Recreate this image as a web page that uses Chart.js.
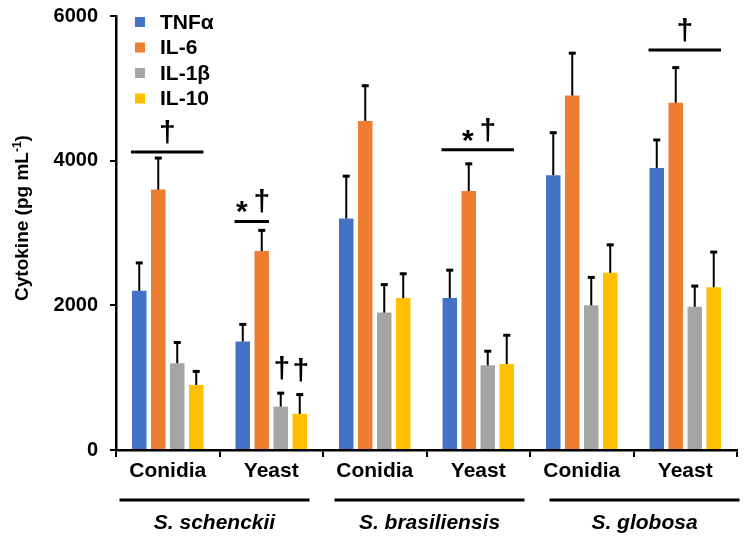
<!DOCTYPE html>
<html>
<head>
<meta charset="utf-8">
<script src="https://cdn.jsdelivr.net/npm/chart.js@4.4.1/dist/chart.umd.min.js"></script>
<style>
  html, body { margin: 0; padding: 0; background: #fff; }
  #wrap { width: 750px; height: 555px; }
</style>
</head>
<body>
<div id="wrap"><canvas id="chart"></canvas></div>
<script>
// ---------- data ----------
const CATEGORIES = ["Conidia", "Yeast", "Conidia", "Yeast", "Conidia", "Yeast"];
const GROUPS     = ["S. schenckii", "S. brasiliensis", "S. globosa"];
const SERIES     = ["TNFα", "IL-6", "IL-1β", "IL-10"];
const COLORS     = ["#4472C4", "#ED7D31", "#A5A5A5", "#FFC000"];

const TNF      = [2200, 1500, 3200, 2100, 3800, 3900];
const TNF_SD   = [ 400,  250,  600,  400,  600,  400];
const IL6      = [3600, 2750, 4550, 3580, 4900, 4800];
const IL6_SD   = [ 450,  300,  500,  390,  600,  500];
const IL1B     = [1200,  600, 1900, 1170, 2000, 1980];
const IL1B_SD  = [ 300,  200,  400,  210,  400,  300];
const IL10     = [ 900,  500, 2100, 1190, 2450, 2250];
const IL10_SD  = [ 200,  280,  350,  410,  400,  500];

const Y_TICKS = [0, 2000, 4000, 6000];

// significance bars: category, first..last bar covered, level (pg/mL), symbols
const SIG_LINES = [
  { cat: 0, from: 0, to: 3, level: 4120, marks: ["†"] },
  { cat: 1, from: 0, to: 1, level: 3160, marks: ["*", "†"] },
  { cat: 3, from: 0, to: 3, level: 4150, marks: ["*", "†"] },
  { cat: 5, from: 0, to: 3, level: 5530, marks: ["†"] },
];
// single symbols above a bar's error bar
const BAR_MARKS = [
  { cat: 1, bar: 2, mark: "†" },
  { cat: 1, bar: 3, mark: "†" },
];

const VALUES = [TNF, IL6, IL1B, IL10];
const ERRORS = [TNF_SD, IL6_SD, IL1B_SD, IL10_SD];

const FONT = "'Liberation Sans', Arial, sans-serif";

// ---------- plugins ----------

const errorBars = {
  id: "errorBars",
  afterDatasetsDraw(chart) {
    const { ctx, scales: { y } } = chart;
    ctx.save();
    ctx.strokeStyle = "#000";
    chart.data.datasets.forEach((ds, i) => {
      chart.getDatasetMeta(i).data.forEach((bar, j) => {
        const top = y.getPixelForValue(ds.data[j] + ERRORS[i][j]);
        ctx.lineWidth = 2;
        ctx.beginPath();
        ctx.moveTo(bar.x, bar.y);
        ctx.lineTo(bar.x, top);
        ctx.stroke();
        ctx.lineWidth = 3;
        ctx.beginPath();
        ctx.moveTo(bar.x - 3.5, top + 1);
        ctx.lineTo(bar.x + 3.5, top + 1);
        ctx.stroke();
      });
    });
    ctx.restore();
  },
};

function drawMarks(ctx, marks, cx, bottom) {
  ctx.font = `bold 30px ${FONT}`;
  const gap = 20;
  marks.forEach((m, k) => {
    const x = cx + (k - (marks.length - 1) / 2) * gap;
    const tm = ctx.measureText(m);
    ctx.fillText(m, x, bottom - tm.actualBoundingBoxDescent);
  });
}

const decorations = {
  id: "decorations",
  afterDraw(chart) {
    const { ctx, chartArea, scales: { x, y } } = chart;
    ctx.save();
    ctx.fillStyle = "#000";
    ctx.strokeStyle = "#000";
    ctx.textAlign = "center";
    ctx.textBaseline = "alphabetic";

    // significance lines
    SIG_LINES.forEach(s => {
      const b0 = chart.getDatasetMeta(s.from).data[s.cat];
      const b1 = chart.getDatasetMeta(s.to).data[s.cat];
      const x0 = b0.x - b0.width / 2 - 1;
      const x1 = b1.x + b1.width / 2;
      const ly = y.getPixelForValue(s.level);
      ctx.lineWidth = 3;
      ctx.beginPath();
      ctx.moveTo(x0, ly);
      ctx.lineTo(x1, ly);
      ctx.stroke();
      drawMarks(ctx, s.marks, (x0 + x1) / 2, ly - 8);
    });

    BAR_MARKS.forEach(m => {
      const bar = chart.getDatasetMeta(m.bar).data[m.cat];
      const top = y.getPixelForValue(VALUES[m.bar][m.cat] + ERRORS[m.bar][m.cat]);
      drawMarks(ctx, [m.mark], bar.x + 1, top - 12);
    });

    // legend
    ctx.textAlign = "left";
    ctx.textBaseline = "middle";
    ctx.font = `bold 21px ${FONT}`;
    SERIES.forEach((name, i) => {
      const ly = chartArea.top + 6 + i * 25.5;
      ctx.fillStyle = COLORS[i];
      ctx.fillRect(chartArea.left + 19, ly - 5, 10, 10);
      ctx.fillStyle = "#000";
      ctx.fillText(name, chartArea.left + 44, ly + 1);
    });

    // species group lines and labels
    ctx.textAlign = "center";
    ctx.textBaseline = "alphabetic";
    ctx.font = `italic bold 21px ${FONT}`;
    GROUPS.forEach((g, i) => {
      const cx = (x.getPixelForValue(2 * i) + x.getPixelForValue(2 * i + 1)) / 2 - 5 + i * 8;
      ctx.lineWidth = 3;
      ctx.beginPath();
      ctx.moveTo(cx - 95, 500);
      ctx.lineTo(cx + 95, 500);
      ctx.stroke();
      ctx.fillText(g, cx, 529);
    });

    // y axis title with superscript
    ctx.translate(28, 218);
    ctx.rotate(-Math.PI / 2);
    ctx.textAlign = "left";
    const main = `bold 19px ${FONT}`, sup = `bold 12px ${FONT}`;
    ctx.font = main;
    const w1 = ctx.measureText("Cytokine (pg mL").width;
    const w3 = ctx.measureText(")").width;
    ctx.font = sup;
    const w2 = ctx.measureText("-1").width;
    let px = -(w1 + w2 + w3) / 2;
    ctx.font = main;
    ctx.fillText("Cytokine (pg mL", px, 0);
    px += w1;
    ctx.font = sup;
    ctx.fillText("-1", px, -7);
    px += w2;
    ctx.font = main;
    ctx.fillText(")", px, 0);
    ctx.restore();
  },
};

// ---------- chart ----------

const datasets = SERIES.map((name, i) => ({
  label: name,
  data: VALUES[i],
  backgroundColor: COLORS[i],
  borderWidth: 0,
  categoryPercentage: 0.734,
  barPercentage: 0.763,
}));

new Chart(document.getElementById("chart"), {
  type: "bar",
  data: { labels: CATEGORIES, datasets },
  plugins: [errorBars, decorations],
  options: {
    responsive: true,
    maintainAspectRatio: false,
    animation: false,
    layout: { padding: { top: 16, right: 13, left: 0, bottom: 0 } },
    plugins: {
      legend: { display: false },
      tooltip: { enabled: false },
    },
    scales: {
      x: {
        afterFit: s => { s.height = 105; s.paddingLeft = 0; s.paddingRight = 0; },
        grid: { drawOnChartArea: false, color: "#000", lineWidth: 2, tickLength: 7 },
        border: { display: true, color: "#000", width: 2.5 },
        ticks: { color: "#000", padding: 2, font: { family: FONT, size: 21, weight: "bold" } },
      },
      y: {
        min: 0,
        max: 6000,
        afterFit: s => { s.width = 116; s.paddingTop = 0; s.paddingBottom = 0; },
        afterBuildTicks: s => { s.ticks = Y_TICKS.map(v => ({ value: v })); },
        grid: { drawOnChartArea: false, color: "#000", lineWidth: 2, tickLength: 6 },
        border: { display: true, color: "#000", width: 2.5 },
        ticks: {
          color: "#000",
          padding: 12,
          font: { family: FONT, size: 20, weight: "bold" },
          callback: v => String(v),
        },
      },
    },
  },
});
</script>
</body>
</html>
